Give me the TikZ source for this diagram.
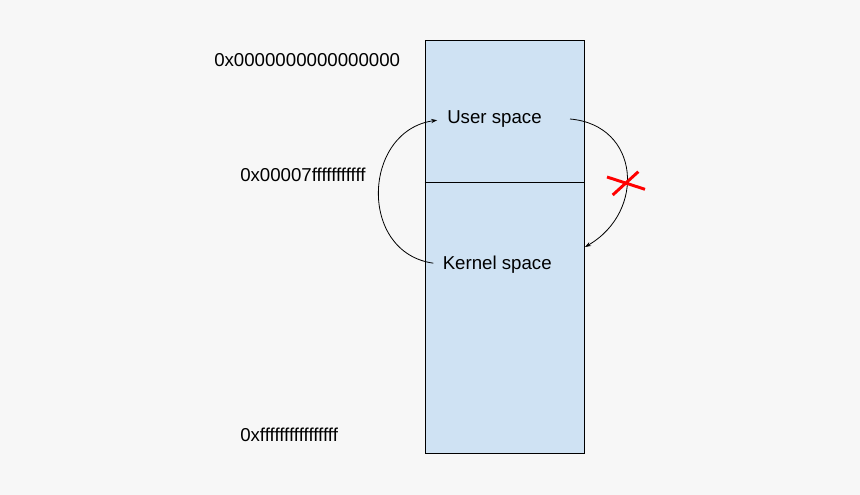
\documentclass[tikz,border=0pt]{standalone}
\usepackage{fontspec}
\setmainfont{Liberation Sans}
\usetikzlibrary{arrows.meta}
\definecolor{pagegray}{HTML}{F7F7F7}
\definecolor{spaceblue}{HTML}{CFE2F3}

\begin{document}
\begin{tikzpicture}[x=0.75pt, y=-0.75pt,
  every node/.style={font=\fontsize{14}{16}\selectfont, inner sep=0pt},
  addr/.style={anchor=base west},
  flow/.style={line width=0.6pt, -{Stealth[length=4.5pt, width=3.2pt]}}]
\useasboundingbox (0,0) rectangle (860,495);
\fill[pagegray] (0,0) rectangle (860,495);
% address space box
\node[draw, fill=spaceblue, line width=0.75pt, minimum width=119.25pt, minimum height=309pt] (mem) at (504.5,247) {};
\draw[line width=0.75pt] (mem.west |- 0,183) -- (mem.east |- 0,183);
% addresses
\node[addr] (top) at (214,67) {0x0000000000000000};
\node[addr] (mid) at (240,181.5) {0x00007fffffffffff};
\node[addr] (bot) at (240,441.5) {0xffffffffffffffff};
% regions
\node[addr] (user) at (447,123.3) {User space};
\node[addr] (kernel) at (442.5,269.3) {Kernel space};
\coordinate (callout) at (570,119);
\coordinate (callin) at (585,247);
\draw[flow, shorten <=7pt, shorten >=7.5pt] (kernel.west) to[out=172, in=188, looseness=1.5] (user.west);
\draw[flow] (callout) to[out=-5, in=30, looseness=1.4] (callin);
% blocked
\draw[red, line width=2.2pt] (607,177) -- (645,189.3) (638.3,171.7) -- (612.7,195);
\end{tikzpicture}
\end{document}
